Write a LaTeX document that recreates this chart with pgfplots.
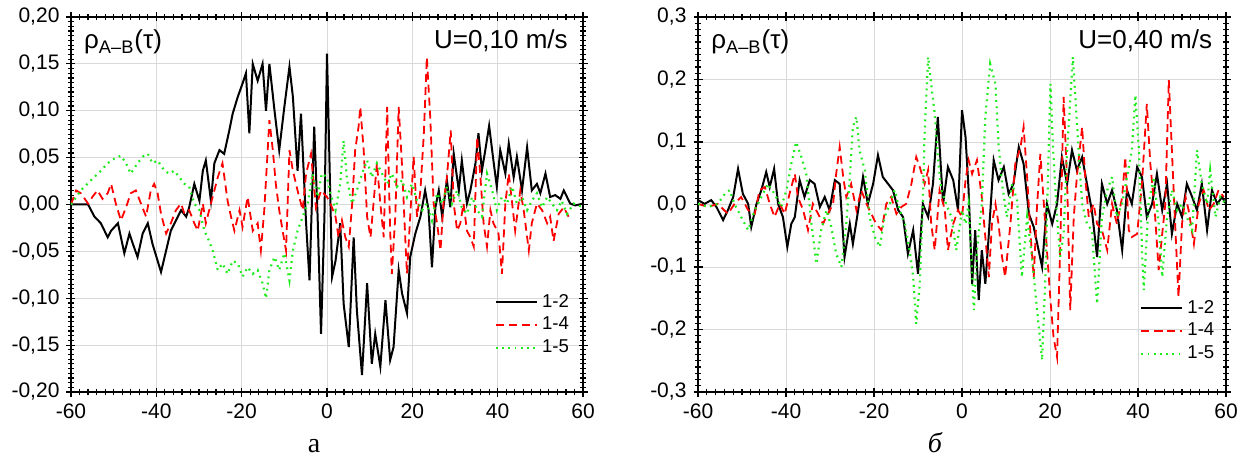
\documentclass[border=0pt]{standalone}
\usepackage{fontspec}
\setmainfont{Liberation Sans}
\newfontfamily\serifcyr{Liberation Serif}
\usepackage{pgfplots}
\pgfplotsset{compat=1.18}
\definecolor{cgreen}{RGB}{30,235,30}
\definecolor{cred}{RGB}{255,0,0}
\pgfplotsset{
 myax/.style={
  scale only axis,
  xmin=-60, xmax=60,
  xtick={-60,-40,...,60},
  minor x tick num=9,
  minor y tick num=9,
  tick align=center,
  major tick length=4.5pt,
  minor tick length=2.6pt,
  every tick/.style={black, line width=0.6pt},
  axis line style={line width=0.75pt},
  grid=major,
  major grid style={gray!30, line width=0.4pt},
  minor grid style={draw=none},
  tick label style={font=\fontsize{10.5}{12}\selectfont},
  /pgf/number format/assume math mode=true,
  legend style={draw=none, fill=none, font=\fontsize{9.3}{10}\selectfont, row sep=-0.5pt, anchor=south east, inner sep=1pt},
  legend cell align=left,
  legend image post style={xscale=1.2},
 },
 s12/.style={color=black, line width=1pt},
 s14/.style={color=cred, line width=0.9pt, dash pattern=on 4pt off 2.5pt},
 s15/.style={color=cgreen, line width=1.1pt, dash pattern=on 0.9pt off 2.2pt},
}
\begin{document}
\begin{tikzpicture}
\path[use as bounding box] (0,0) rectangle (623.5pt,-229.5pt);
% ---------------- panel a
\begin{axis}[myax,
  at={(35.5pt,-196pt)}, anchor=south west,
  width=256pt, height=187.5pt,
  ymin=-0.20, ymax=0.20, ytick={-0.20,-0.15,...,0.21},
  yticklabel style={/pgf/number format/.cd, fixed, fixed zerofill, precision=2, use comma},
  legend style={at={(rel axis cs:0.985,0.08)}},
]
\addplot[s12] table {
-60 0
-58 0.0
-56 0.0
-54.5 -0.013
-53 -0.020
-51.4 -0.035
-50.6 -0.028
-49 -0.020
-47.5 -0.052
-46.3 -0.031
-45.5 -0.042
-44.4 -0.056
-43.2 -0.031
-42 -0.020
-40.9 -0.042
-38.9 -0.072
-37.7 -0.049
-36.6 -0.028
-35.4 -0.017
-34.2 -0.006
-33 -0.013
-32.3 -0.003
-31.1 0.022
-29.9 0.004
-29.1 0.036
-28.4 0.047
-27.2 0.004
-26.4 0.044
-25.2 0.058
-24.1 0.054
-22.9 0.079
-22.1 0.097
-20.9 0.115
-19.8 0.129
-19 0.140
-18.2 0.076
-17.4 0.150
-16.25 0.132
-15.1 0.150
-14.3 0.100
-13.5 0.150
-12.3 0.100
-11.2 0.058
-10 0.104
-8.8 0.147
-8 0.115
-6.9 0.036
-6.1 0.097
-4.9 -0.020
-4.1 -0.081
-3 0.083
-2.2 -0.013
-1.4 -0.138
-0.6 -0.013
0 0.161
1.2 -0.077
2 -0.060
3.1 -0.020
3.9 -0.106
5.1 -0.152
6.25 -0.035
7 -0.113
8.2 -0.182
9.4 -0.084
10.5 -0.170
11.3 -0.138
12.5 -0.173
13.7 -0.102
14.8 -0.166
15.6 -0.152
16.8 -0.070
17.6 -0.095
18.75 -0.116
19.5 -0.056
20.7 -0.031
21.9 -0.013
23 0.015
23.8 -0.006
24.6 -0.067
25.4 -0.003
26.2 0.015
27 -0.013
28.1 0.026
28.9 -0.003
29.7 0.054
30.9 0.015
31.6 0.047
32.8 0.001
33.6 0.015
34.8 0.044
35.5 0.076
36.3 0.036
37.1 0.058
38 0.084
39 0.047
39.8 0.019
40.6 0.058
41.8 0.033
42.6 0.065
43.75 0.029
44.5 0.051
45.7 0.015
46.9 0.061
48 0.015
49.2 0.022
50 0.012
51.2 0.033
52.3 0.008
53.5 0.010
54.7 0.006
55.5 0.015
57 0.001
58.2 -0.001
60 0.001
};
\addlegendentry{1-2}
\addplot[s14] table {
-60 0
-58.8 0.015
-57.7 0.012
-56 0.001
-55 0.008
-53.8 0.015
-52.6 0.006
-51.4 0.012
-50.6 0.022
-49.5 0.001
-48.3 -0.017
-47.1 -0.003
-46 0.012
-44.8 0.015
-43.6 0.001
-42.4 -0.013
-41.3 0.015
-40.5 0.022
-39.7 0.012
-38.9 -0.010
-37.7 -0.031
-36.6 -0.020
-35.4 -0.006
-34.2 0.001
-33.4 -0.010
-32.3 -0.006
-31.1 -0.020
-30.3 -0.028
-29.1 0.001
-28.4 -0.020
-27.2 0.001
-25.6 0.029
-24.5 0.044
-23.3 0.004
-22.5 -0.013
-21.7 -0.028
-20.5 -0.006
-19.8 -0.024
-18.6 0.008
-17.4 -0.028
-16.25 -0.020
-15.5 -0.049
-14.7 -0.006
-13.5 0.090
-12.7 0.058
-12 0.022
-11.2 -0.006
-10.4 -0.028
-9.6 -0.049
-8.8 0.058
-8 0.036
-6.9 0.015
-5.7 -0.006
-4.9 0.033
-3.75 0.054
-2.6 -0.003
-1.4 0.015
0 0.008
0.8 0.001
2 -0.013
2.7 -0.035
3.5 -0.017
4.3 -0.035
5.1 -0.045
5.9 0.001
6.6 0.058
7.4 0.083
7.8 0.104
8.6 0.058
9.4 -0.013
10.2 -0.035
10.9 0.001
11.7 0.044
12.5 0.001
13.3 -0.035
14.1 0.104
14.8 -0.028
15.2 -0.074
16 -0.013
16.8 0.104
17.6 0.040
18.4 -0.042
18.75 -0.074
19.5 -0.013
20.3 0.051
21.1 -0.013
21.9 0.015
22.7 0.076
23.4 0.157
24.2 0.093
25 0.001
25.8 -0.020
26.6 -0.049
27.3 0.001
28.1 0.029
29 0.079
29.7 0.001
30.5 -0.028
31.25 -0.020
32 0.001
32.8 -0.028
33.6 -0.035
34.4 -0.045
35.2 0.072
35.9 0.033
36.7 -0.020
37.5 -0.045
38.3 -0.006
39 -0.020
40.2 -0.031
41 -0.074
41.8 0.001
42.6 0.033
43.4 0.001
44.1 -0.028
45.3 0.015
46.1 -0.006
47.3 -0.049
48 -0.020
49.2 0.001
50.4 -0.006
51.6 -0.020
52.3 -0.013
53.1 -0.039
54.3 -0.010
55.5 -0.003
56.6 -0.013
};
\addlegendentry{1-4}
\addplot[s15] table {
-60 0
-57.7 0.015
-55.3 0.026
-53 0.036
-51.4 0.044
-49.8 0.049
-48.3 0.052
-47.1 0.044
-46 0.033
-44.4 0.044
-43.2 0.051
-42 0.054
-40.9 0.044
-39.7 0.047
-38.1 0.036
-37 0.033
-35.8 0.036
-34.6 0.029
-33.4 0.022
-32.3 0.019
-31.1 0.001
-29.9 -0.006
-28.75 -0.028
-28 -0.035
-26.8 -0.049
-25.6 -0.070
-24.5 -0.063
-23.3 -0.074
-22.1 -0.060
-20.9 -0.063
-19.8 -0.077
-18.6 -0.067
-17.4 -0.074
-16.25 -0.070
-15.1 -0.084
-14.3 -0.100
-13.5 -0.070
-12.3 -0.056
-11.2 -0.070
-10 -0.052
-8.8 -0.081
-8 -0.049
-6.9 -0.028
-5.7 -0.013
-4.5 0.001
-3.4 0.033
-2.2 0.008
-1.2 0.033
0 0.029
0.8 0.012
2 -0.006
3.1 0.022
3.9 0.068
4.7 0.026
5.9 0.001
7 0.015
8.2 0.033
9.4 0.047
10.5 0.029
11.7 0.044
12.9 0.033
14.1 0.022
15.2 0.033
16.4 0.019
17.6 0.026
18.75 0.008
19.9 0.022
21.1 0.004
22.3 -0.006
23.4 0.001
24.6 -0.017
25.8 0.012
27 0.001
28.1 0.019
29.3 0.001
30.5 0.015
31.6 -0.003
32.8 -0.010
34 0.008
35.2 -0.006
36.3 -0.013
37.5 0.033
38.7 0.015
39.8 -0.006
41 0.008
42.2 0.001
43.4 0.019
44.5 0.001
45.7 0.008
46.9 -0.006
48 0.004
49.2 0.012
50.4 -0.003
51.6 0.008
52.7 0.001
53.9 -0.006
55 0.004
56.25 -0.010
57.8 0.001
60 -0.003
};
\addlegendentry{1-5}
\node[anchor=base west, yshift=-16pt, font=\fontsize{13}{13}\selectfont] at (rel axis cs:0.012,1) {ρ\textsubscript{A–B}(τ)};
\node[anchor=base east, yshift=-16pt, font=\fontsize{13}{13}\selectfont] at (rel axis cs:0.984,1) {U=0,10 m/s};
\node[anchor=base, yshift=-15pt, font=\serifcyr\fontsize{11}{12}\selectfont] at (rel axis cs:0.918,0) {τ, s};
\end{axis}
% ---------------- panel b
\begin{axis}[myax,
  at={(349pt,-196pt)}, anchor=south west,
  width=264pt, height=187.5pt,
  ymin=-0.3, ymax=0.3, ytick={-0.3,-0.2,...,0.31},
  yticklabel style={/pgf/number format/.cd, fixed, fixed zerofill, precision=1, use comma},
  legend style={at={(rel axis cs:0.99,0.064)}},
]
\addplot[s12] table {
-60 0.007
-58.5 0.001
-57 0.007
-55.8 -0.004
-54.3 -0.025
-53.2 -0.009
-52 0.012
-50.9 0.057
-49.8 0.017
-48.6 0.001
-47.9 -0.036
-46.7 0.001
-45.6 0.023
-44.5 0.052
-43.7 0.028
-42.7 0.057
-41.8 0.001
-40.7 -0.020
-39.7 -0.068
-38.8 -0.031
-38 -0.020
-36.9 0.039
-35.8 0.012
-34.6 0.039
-33.5 0.033
-32.3 -0.004
-31.2 0.012
-30.1 -0.009
-28.9 0.039
-27.8 0.033
-26.7 -0.084
-25.5 -0.031
-24.8 -0.063
-23.6 -0.009
-22.5 0.044
-21.4 0.001
-20.2 0.033
-19.1 0.079
-18 0.044
-16.8 0.033
-15.7 0.023
-14.5 -0.009
-13.4 -0.020
-12.3 -0.079
-11.1 -0.041
-10 -0.111
-8.9 0.001
-7.7 -0.020
-6.6 0.033
-5.5 0.140
-4.3 0.001
-3.2 0.060
-2 0.039
-0.9 -0.009
0 0.151
0.8 0.108
1.5 0.023
2.3 -0.127
3 -0.041
3.8 -0.153
4.5 -0.073
5.3 -0.127
6.1 -0.047
7.2 0.071
8.3 0.039
9.5 0.060
10.6 0.017
11.7 0.033
12.9 0.092
14 0.065
15.2 -0.015
16.3 -0.036
17.4 -0.073
18.2 -0.100
19.3 0.001
20.5 -0.031
21.6 0.001
22.7 0.076
23.9 0.033
25 0.087
26.1 0.055
27.3 0.076
28.4 0.033
29.5 -0.009
30.7 -0.084
31.8 0.033
33 0.001
34.1 0.023
35.2 -0.009
36.4 -0.073
37.5 0.023
38.6 0.001
39.8 0.060
40.9 0.044
42 -0.020
43.2 0.001
44.3 0.049
45.5 -0.009
46.6 0.033
47.7 -0.047
48.9 0.001
50 -0.020
51.1 0.033
52.3 0.012
53.4 -0.009
54.5 0.033
55.7 -0.041
56.8 0.023
58 0.001
59.1 0.012
60 0.001
};
\addlegendentry{1-2}
\addplot[s14] table {
-60 0.001
-57.7 -0.004
-55.5 0.001
-53.2 -0.015
-51.7 0.001
-50.2 0.012
-48.6 -0.009
-47.1 -0.015
-46 0.023
-44.8 0.028
-43.7 0.001
-42.6 -0.020
-41.4 0.001
-40.3 -0.015
-39.2 0.017
-38 0.049
-37.3 0.012
-36.1 -0.009
-35 -0.041
-33.9 0.001
-32.7 -0.015
-31.6 -0.031
-30.5 -0.015
-29.3 0.001
-28.6 0.049
-27.8 0.092
-27 0.044
-26.3 0.012
-25.2 0.033
-24 -0.009
-22.9 0.023
-21.7 0.001
-20.6 -0.015
-19.5 -0.031
-18.3 -0.041
-17.2 0.001
-16.1 0.012
-14.9 -0.015
-13.8 -0.004
-12.7 0.001
-11.5 0.033
-10.4 0.076
-9.6 0.060
-8.5 0.033
-7.7 0.055
-7 -0.031
-6.2 -0.073
-5.1 0.023
-3.9 -0.009
-3.2 -0.073
-2 -0.031
-0.9 -0.009
0 -0.020
0.8 0.039
1.5 0.071
2.3 0.049
3.4 0.071
4.5 0.012
5.3 -0.052
6.1 -0.116
6.8 -0.031
7.6 0.001
8.3 -0.031
9.1 -0.084
9.8 -0.116
11 -0.031
12.1 0.065
13.3 0.092
14 0.124
14.8 0.044
15.5 -0.041
16.3 -0.116
17 -0.009
17.8 0.081
18.6 0.001
19.3 -0.073
20.1 -0.153
20.8 -0.212
21.6 -0.244
22.3 -0.073
23.1 0.172
23.9 0.033
24.6 -0.169
25.4 -0.020
26.1 0.044
27.3 0.124
28 0.044
28.8 -0.020
29.9 0.001
30.7 -0.031
31.8 -0.041
33 -0.073
34.1 0.001
35.2 -0.031
36.4 0.012
37.1 0.076
37.9 -0.041
38.6 -0.052
39.8 -0.047
40.9 0.033
42 0.161
42.8 0.065
43.9 -0.020
44.7 -0.105
45.5 -0.047
46.2 0.001
47 0.199
47.7 0.087
48.5 -0.041
49.2 -0.148
50 -0.031
50.8 0.012
51.5 -0.009
52.7 -0.063
53.8 0.001
54.9 0.023
56.1 -0.009
57.2 0.001
58.3 0.023
59.5 0.012
};
\addlegendentry{1-4}
\addplot[s15] table {
-60 0.001
-57.7 -0.004
-55.5 0.001
-53.9 0.017
-52.8 0.023
-51.7 0.001
-50.2 -0.020
-48.6 -0.041
-47.1 -0.009
-45.6 0.012
-44.1 0.033
-42.6 0.017
-41.1 -0.004
-39.9 0.023
-38.8 0.065
-37.7 0.100
-36.5 0.076
-35.4 0.049
-34.2 -0.031
-33.1 -0.095
-32 -0.041
-30.8 -0.009
-29.7 -0.036
-28.6 -0.079
-27.4 -0.100
-26.3 -0.031
-25.5 0.044
-24.8 0.124
-24 0.140
-23.3 0.087
-22.1 0.055
-21 -0.020
-19.8 -0.052
-18.7 -0.068
-17.6 -0.020
-16.4 0.001
-15.3 0.023
-14.2 -0.009
-13 -0.031
-11.9 -0.073
-11.1 -0.116
-10.4 -0.191
-9.6 -0.127
-8.9 0.001
-8.5 0.113
-7.7 0.236
-7 0.193
-6.2 0.145
-5.5 0.076
-4.7 0.023
-3.6 0.001
-2.4 -0.020
-1.3 -0.073
0 -0.009
0.8 -0.031
1.5 0.001
2.7 -0.169
3.4 -0.073
4.5 0.001
5.3 0.140
6.4 0.225
7.6 0.193
8.3 0.097
9.1 0.033
10.2 -0.020
11.4 0.033
12.5 0.007
13.6 -0.116
14.8 -0.020
15.9 -0.084
17 -0.164
18.2 -0.249
18.9 -0.127
19.7 0.087
20.1 0.193
20.8 0.076
21.6 -0.020
22.3 -0.084
23.1 -0.047
23.9 0.087
24.6 0.167
25.2 0.236
25.8 0.167
26.5 0.087
27.3 0.001
28.4 -0.031
29.5 -0.041
30.7 -0.159
31.8 -0.020
33 0.023
34.1 0.044
35.2 -0.020
36.4 0.001
37.5 0.044
38.6 0.087
39.4 0.175
40.2 0.087
40.9 -0.073
41.3 -0.137
42.4 0.001
43.6 0.044
44.7 -0.031
45.5 -0.116
46.6 -0.020
47.7 0.023
48.9 -0.009
50 0.001
51.1 -0.020
52.3 -0.041
53.4 0.087
54.5 0.033
55.7 0.001
56.4 0.055
57.6 -0.020
58.7 0.012
60 0.001
};
\addlegendentry{1-5}
\node[anchor=base west, yshift=-16pt, font=\fontsize{13}{13}\selectfont] at (rel axis cs:0.012,1) {ρ\textsubscript{A–B}(τ)};
\node[anchor=base east, yshift=-16pt, font=\fontsize{13}{13}\selectfont] at (rel axis cs:0.987,1) {U=0,40 m/s};
\node[anchor=base, yshift=-15pt, font=\serifcyr\fontsize{11}{12}\selectfont] at (rel axis cs:0.917,0) {τ, s};
\end{axis}
\node[anchor=base, font=\serifcyr\fontsize{14}{14}\selectfont] at (157pt,-226pt) {а};
\node[anchor=base, font=\serifcyr\itshape\fontsize{14}{14}\selectfont] at (467.5pt,-226pt) {б};
\end{tikzpicture}
\end{document}
